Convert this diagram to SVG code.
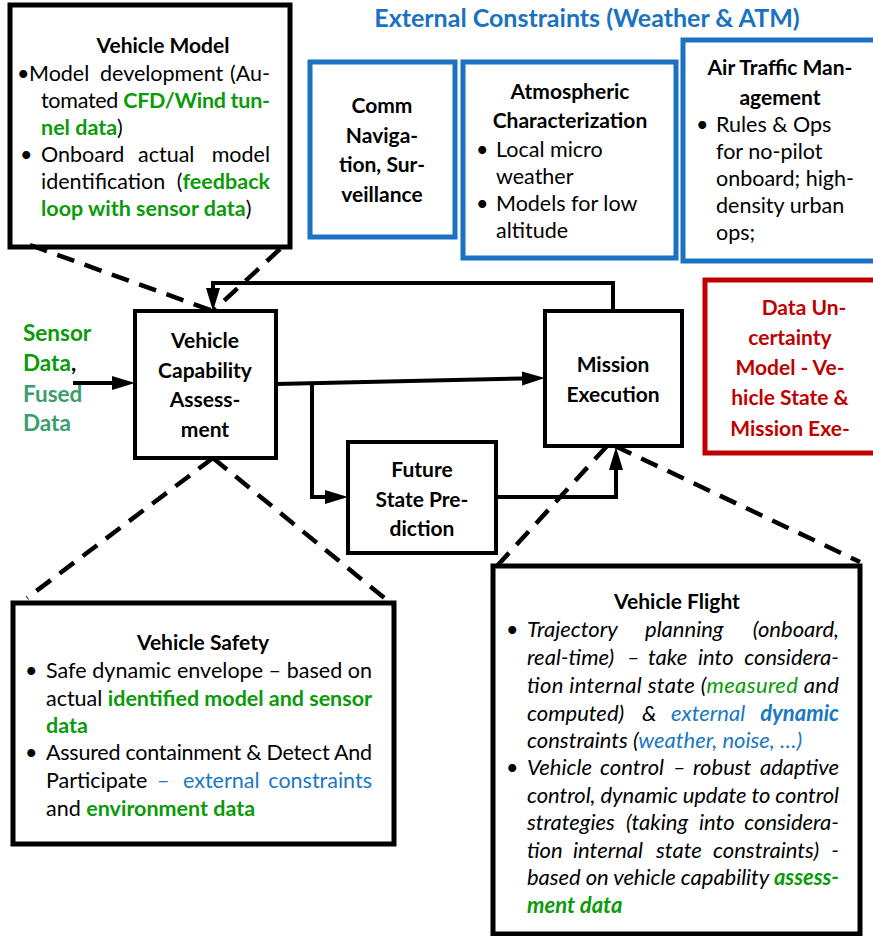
<svg xmlns="http://www.w3.org/2000/svg" width="873" height="936" viewBox="0 0 873 936">
  <style>
    text { font-family: Lato, "Liberation Sans", sans-serif; fill: #000; }
    .body { font-size: 21.5px; }
    .it { font-size: 22px; font-style: italic; }
    .hd { font-size: 21px; font-weight: bold; text-anchor: middle; }
    .end { text-anchor: end; }
    .b { font-weight: bold; }
    .g { fill: #0a9a0a; font-weight: bold; }
    .gn { fill: #0a9a0a; }
    .teal { fill: #3a9d6c; font-weight: bold; }
    .blu { fill: #1a78c2; }
    .red { fill: #c00000; font-size: 21px; font-weight: bold; text-anchor: middle; }
    .box { fill: #fff; stroke: #000; stroke-width: 4; }
    .bigbox { fill: #fff; stroke: #000; stroke-width: 5; }
    .bbox { fill: #fff; stroke: #1a72c0; stroke-width: 5; }
    .rbox { fill: #fff; stroke: #c00000; stroke-width: 5; }
    .wire { fill: none; stroke: #000; stroke-width: 4; }
    .dash { fill: none; stroke: #000; stroke-width: 4.5; stroke-dasharray: 18 11; }
  </style>
  <defs>
    <marker id="head" markerUnits="userSpaceOnUse" markerWidth="24" markerHeight="16" refX="0" refY="7" orient="auto">
      <path d="M0,0 L23,7 L0,14 z" fill="#000"/>
    </marker>
  </defs>

  <rect width="873" height="936" fill="#fff"/>

  <!-- section heading -->
  <text x="587" y="27" font-size="25" font-weight="bold" text-anchor="middle" style="fill:#1a72c0">External Constraints (Weather &amp; ATM)</text>

  <!-- Vehicle Model -->
  <g id="vehicle-model">
    <rect class="bigbox" x="10" y="5" width="280" height="242"/>
    <text class="hd" x="163" y="53">Vehicle Model</text>
    <text class="body" x="17" y="81">•</text>
    <text class="body" y="81"><tspan x="29">Model</tspan><tspan x="100">development</tspan></text>
    <text class="body end" x="270" y="81">(Au-</text>
    <text class="body" x="41" y="108" textLength="229" lengthAdjust="spacing">tomated <tspan class="g">CFD/Wind tun-</tspan></text>
    <text class="body" x="41" y="135"><tspan class="g">nel data</tspan>)</text>
    <text class="body" x="20" y="162">•</text>
    <text class="body" y="162"><tspan x="41">Onboard</tspan><tspan x="138">actual</tspan></text>
    <text class="body end" x="270" y="162">model</text>
    <text class="body" x="41" y="189">identification</text>
    <text class="body end" x="270" y="189">(<tspan class="g">feedback</tspan></text>
    <text class="body" x="41" y="216"><tspan class="g">loop with sensor data</tspan>)</text>
  </g>

  <!-- Comm / Navigation / Surveillance -->
  <g id="comm-nav-surv">
    <rect class="bbox" x="310" y="62" width="145" height="175"/>
    <text class="hd" x="382" y="113">Comm</text>
    <text class="hd" x="382" y="143">Naviga-</text>
    <text class="hd" x="382" y="172">tion, Sur-</text>
    <text class="hd" x="382" y="202">veillance</text>
  </g>

  <!-- Atmospheric Characterization -->
  <g id="atmospheric">
    <rect class="bbox" x="463" y="62" width="213" height="196"/>
    <text class="hd" x="570" y="99">Atmospheric</text>
    <text class="hd" x="570" y="128">Characterization</text>
    <text class="body" x="476" y="157">•</text>
    <text class="body" x="496" y="157">Local micro</text>
    <text class="body" x="496" y="184">weather</text>
    <text class="body" x="476" y="211">•</text>
    <text class="body" x="496" y="211">Models for low</text>
    <text class="body" x="496" y="238">altitude</text>
  </g>

  <!-- Air Traffic Management -->
  <g id="air-traffic">
    <rect class="bbox" x="683" y="40" width="195" height="221"/>
    <text class="hd" x="780" y="75">Air Traffic Man-</text>
    <text class="hd" x="780" y="105">agement</text>
    <text class="body" x="696" y="132">•</text>
    <text class="body" x="716" y="132">Rules &amp; Ops</text>
    <text class="body" x="716" y="159">for no-pilot</text>
    <text class="body" x="716" y="186">onboard; high-</text>
    <text class="body" x="716" y="213">density urban</text>
    <text class="body" x="716" y="240">ops;</text>
  </g>

  <!-- Data Uncertainty Model -->
  <g id="data-uncertainty">
    <rect class="rbox" x="705" y="280" width="173" height="173"/>
    <text class="red" x="804" y="315">Data Un-</text>
    <text class="red" x="790" y="345">certainty</text>
    <text class="red" x="790" y="375">Model - Ve-</text>
    <text class="red" x="790" y="405">hicle State &amp;</text>
    <text class="red" x="790" y="436">Mission Exe-</text>
  </g>

  <!-- Sensor input label -->
  <g id="sensor-data">
    <text font-size="22.5" x="23" y="341" class="g">Sensor</text>
    <text font-size="22.5" x="23" y="371"><tspan class="g">Data</tspan><tspan font-weight="bold">,</tspan></text>
    <text font-size="22.5" x="23" y="402" class="teal">Fused</text>
    <text font-size="22.5" x="23" y="431" class="teal">Data</text>
  </g>

  <!-- Vehicle Capability Assessment -->
  <g id="capability">
    <rect class="box" x="135" y="311" width="141" height="147"/>
    <text class="hd" x="205" y="348">Vehicle</text>
    <text class="hd" x="205" y="378">Capability</text>
    <text class="hd" x="205" y="407">Assess-</text>
    <text class="hd" x="205" y="437">ment</text>
  </g>

  <!-- Mission Execution -->
  <g id="mission">
    <rect class="box" x="545" y="311" width="137" height="135"/>
    <text class="hd" x="613" y="372">Mission</text>
    <text class="hd" x="613" y="402">Execution</text>
  </g>

  <!-- Future State Prediction -->
  <g id="future-state">
    <rect class="box" x="348" y="442" width="148" height="111"/>
    <text class="hd" x="422" y="477">Future</text>
    <text class="hd" x="422" y="507">State Pre-</text>
    <text class="hd" x="422" y="536">diction</text>
  </g>

  <!-- Vehicle Safety -->
  <g id="vehicle-safety">
    <rect class="bigbox" x="13" y="603" width="381" height="241"/>
    <text class="hd" x="203" y="650">Vehicle Safety</text>
    <text class="body" x="25" y="678">•</text>
    <text class="body" x="46" y="678" textLength="326" lengthAdjust="spacing">Safe dynamic envelope – based on</text>
    <text class="body" x="46" y="706" textLength="326" lengthAdjust="spacing">actual <tspan class="g">identified model and sensor</tspan></text>
    <text class="body g" x="46" y="733">data</text>
    <text class="body" x="25" y="760">•</text>
    <text class="body" x="46" y="760" textLength="326" lengthAdjust="spacing">Assured containment &amp; Detect And</text>
    <text class="body" y="788"><tspan x="46">Participate</tspan><tspan class="blu" x="157">–</tspan><tspan class="blu" x="183">external</tspan></text>
    <text class="body blu end" x="372" y="788">constraints</text>
    <text class="body" x="46" y="816">and <tspan class="g">environment data</tspan></text>
  </g>

  <!-- Vehicle Flight -->
  <g id="vehicle-flight">
    <rect class="bigbox" x="493" y="566" width="367" height="368"/>
    <text class="hd" x="677" y="609">Vehicle Flight</text>
    <text class="body" x="506" y="637">•</text>
    <text class="it" y="637"><tspan x="527">Trajectory</tspan><tspan x="645">planning</tspan></text>
    <text class="it end" x="839" y="637">(onboard,</text>
    <text class="it" y="665"><tspan x="527">real-time)</tspan><tspan x="627">–</tspan><tspan x="648">take</tspan><tspan x="698">into</tspan></text>
    <text class="it end" x="839" y="665">considera-</text>
    <text class="it" x="527" y="693" textLength="312" lengthAdjust="spacing">tion internal state (<tspan class="gn">measured</tspan> and</text>
    <text class="it" y="721"><tspan x="527">computed)</tspan><tspan x="642">&amp;</tspan><tspan class="blu" x="671">external</tspan></text>
    <text class="it blu b end" x="839" y="721">dynamic</text>
    <text class="it" x="527" y="748">constraints (<tspan class="blu">weather, noise, …)</tspan></text>
    <text class="body" x="506" y="775">•</text>
    <text class="it" y="775"><tspan x="527">Vehicle</tspan><tspan x="600">control</tspan><tspan x="673">–</tspan><tspan x="693">robust</tspan></text>
    <text class="it end" x="839" y="775">adaptive</text>
    <text class="it" x="527" y="803" textLength="312" lengthAdjust="spacing">control, dynamic update to control</text>
    <text class="it" y="830"><tspan x="527">strategies</tspan><tspan x="626">(taking</tspan><tspan x="699">into</tspan></text>
    <text class="it end" x="839" y="830">considera-</text>
    <text class="it" y="858"><tspan x="527">tion</tspan><tspan x="573">internal</tspan><tspan x="656">state</tspan><tspan x="713">constraints)</tspan></text>
    <text class="it end" x="839" y="858">-</text>
    <text class="it" x="527" y="885" textLength="312" lengthAdjust="spacing">based on vehicle capability <tspan class="g">assess-</tspan></text>
    <text class="it g" x="527" y="913">ment data</text>
  </g>

  <!-- connectors -->
  <g id="connectors">
    <!-- sensor input -->
    <line class="wire" x1="73" y1="383" x2="112" y2="383" marker-end="url(#head)"/>
    <!-- capability -> mission execution -->
    <line class="wire" x1="276" y1="384" x2="522" y2="378.5" marker-end="url(#head)"/>
    <!-- branch to future state prediction -->
    <polyline class="wire" points="312,384 312,497 325,497" marker-end="url(#head)"/>
    <!-- future state prediction -> mission execution -->
    <polyline class="wire" points="496,497 616,497 616,470" marker-end="url(#head)"/>
    <!-- feedback loop -->
    <polyline class="wire" points="613,311 613,283 213,283 213,288" marker-end="url(#head)"/>

    <!-- dashed relations -->
    <line class="dash" x1="30" y1="245" x2="213" y2="311"/>
    <line class="dash" x1="280" y1="249" x2="213" y2="311"/>
    <line class="dash" x1="213" y1="458" x2="27" y2="598"/>
    <line class="dash" x1="213" y1="458" x2="393" y2="605"/>
    <line class="dash" x1="607" y1="446" x2="497" y2="566"/>
    <line class="dash" x1="615" y1="446" x2="860" y2="562"/>
  </g>
</svg>
